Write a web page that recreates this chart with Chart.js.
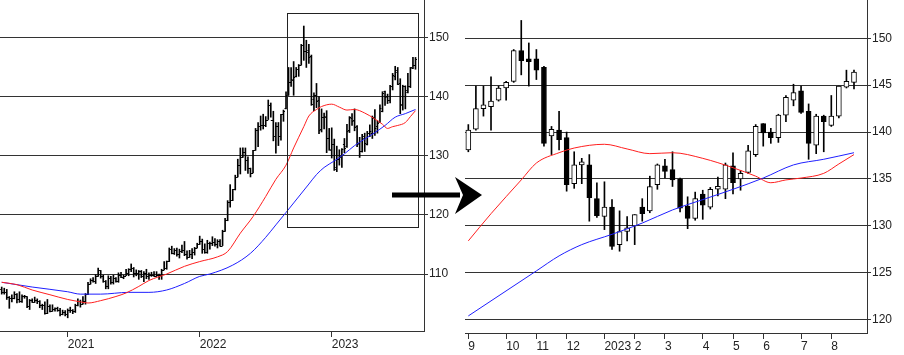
<!DOCTYPE html>
<html>
<head>
<meta charset="utf-8">
<script src="https://cdn.jsdelivr.net/npm/chart.js@4/dist/chart.umd.min.js"></script>
<style>
  body { margin: 0; background: #fff; }
  #wrap { position: relative; width: 904px; height: 355px; overflow: hidden; }
  canvas { position: absolute; top: 0; }
  #leftChart { left: 0; }
  #rightChart { left: 465px; }
  svg { position: absolute; left: 0; top: 0; pointer-events: none; }
</style>
</head>
<body>
<div id="wrap">
  <canvas id="leftChart" width="460" height="355"></canvas>
  <canvas id="rightChart" width="439" height="355"></canvas>
  <!-- arrow from the zoom box to the detail chart -->
  <svg width="904" height="355">
    <rect x="392" y="192.5" width="68" height="5" fill="#000"/>
    <polygon points="455,177 482,195 455,214 463,195" fill="#000"/>
  </svg>
</div>
<script>
// Weekly bars, index 0 = week of 6 Jul 2020, index 163 = week of 21 Aug 2023

const opens = [
  107.5,106.9,107.0,106.1,105.9,105.9,106.6,105.8,105.4,106.2,
  106.2,104.6,105.6,105.3,105.6,105.4,104.7,104.7,103.4,104.6,
  103.8,104.1,104.2,104.0,103.3,103.6,103.2,103.9,103.9,103.8,
  104.7,105.4,104.9,105.4,106.6,108.3,109.0,108.9,109.6,110.6,
  109.6,108.8,107.9,109.3,108.6,109.4,108.9,109.9,109.5,109.7,
  110.2,110.8,111.0,110.1,110.1,110.5,109.7,110.2,109.6,109.8,
  109.8,109.7,109.9,109.9,110.7,111.0,112.2,114.2,113.5,114.0,
  113.4,113.9,114.0,113.4,112.8,113.4,113.7,114.4,115.1,115.6,
  114.2,113.7,115.3,115.2,115.4,115.0,115.6,114.8,117.3,119.2,
  122.1,122.5,124.3,126.4,128.5,129.8,130.6,129.2,127.9,127.1,
  130.9,134.4,135.0,135.2,135.2,136.1,138.6,136.1,133.3,135.0,
  133.4,137.0,
  138.1,140.3,142.5,142.7,143.4,144.7,145.4,148.7,147.7,147.8,
  146.9,139.6,140.2,139.4,134.5,136.5,136.5,132.9,131.0,132.0,
  128.0,129.4,130.0,132.0,131.6,134.4,136.4,136.0,135.0,132.1,
  130.8,133.4,132.0,133.9,133.9,136.4,135.0,135.7,137.6,140.9,
  140.0,139.4,141.8,143.4,144.4,142.2,138.6,141.7,140.7,141.7,
  144.8,145.3
];
const highs = [
  107.8,107.6,107.4,106.2,106.5,107.0,106.7,107.0,106.5,106.4,
  106.2,105.7,105.8,106.1,105.8,105.5,104.9,105.3,105.7,104.8,
  104.8,104.3,104.4,104.2,103.9,103.8,104.1,104.4,104.0,104.9,
  105.8,105.6,106.2,106.7,108.6,109.2,109.4,109.9,111.0,110.6,
  109.8,108.9,109.7,109.6,109.8,109.4,110.2,110.3,109.8,110.8,
  110.9,111.7,111.1,110.7,110.6,110.6,110.4,110.8,110.2,110.3,
  110.4,110.4,110.0,110.8,112.1,112.2,114.4,114.7,114.3,114.4,
  114.2,114.9,115.5,113.9,114.0,114.3,114.5,115.2,116.4,115.9,
  115.1,115.7,115.4,116.3,116.0,115.8,115.8,117.4,119.4,122.4,
  125.1,124.3,126.7,129.4,131.3,131.3,131.3,129.8,127.9,130.9,
  134.6,135.6,136.7,137.0,136.6,139.4,138.9,137.5,135.6,135.6,
  137.0,137.7,
  140.8,144.9,144.9,145.9,144.9,145.4,148.8,151.9,149.5,148.8,
  147.0,140.6,142.2,140.0,137.9,137.2,137.6,134.6,134.7,132.8,
  131.6,131.0,131.2,132.9,135.3,136.6,137.1,137.9,135.1,133.1,
  133.6,133.8,134.1,135.2,136.7,137.8,135.9,138.6,140.8,140.9,
  140.4,141.9,143.9,145.1,144.9,143.0,141.9,141.8,143.9,144.9,
  146.6,146.6
];
const lows = [
  106.6,106.6,105.7,104.2,105.3,105.8,105.1,105.2,105.2,105.9,
  104.3,104.0,105.2,105.2,105.0,104.3,104.0,103.2,103.3,103.6,
  103.7,103.7,103.7,102.9,103.1,102.9,102.6,103.5,103.3,103.5,
  104.6,104.4,104.9,104.9,106.5,108.3,108.6,108.4,109.6,109.3,
  108.6,107.5,107.5,108.3,108.3,108.6,108.6,109.4,109.2,109.7,
  109.7,110.4,109.5,109.7,109.1,109.4,108.7,109.2,109.1,109.6,
  109.6,109.6,109.1,109.1,110.7,110.8,112.1,113.4,113.3,113.0,
  112.7,113.6,113.1,112.5,112.8,112.6,113.2,114.4,115.0,113.5,
  113.5,113.5,114.2,114.8,114.7,114.4,114.7,114.8,117.2,119.0,
  121.3,122.4,124.2,126.4,126.9,129.7,127.5,127.0,126.4,127.1,
  130.9,131.5,134.3,134.5,134.9,136.1,136.5,132.5,130.4,131.7,
  132.6,135.8,
  137.9,140.2,141.7,140.2,143.3,143.4,145.3,146.1,144.9,145.6,
  138.5,137.6,138.1,133.7,134.0,134.5,130.5,130.9,129.6,127.5,
  127.3,128.4,128.0,130.5,131.4,133.9,135.1,134.2,131.5,129.7,
  130.6,130.7,131.8,133.2,132.9,133.4,133.8,135.6,137.4,138.5,
  138.8,138.9,141.1,142.8,142.0,137.1,137.7,137.9,140.6,141.5,
  144.7,144.6
];
const closes = [
  106.9,107.0,106.1,105.9,105.9,106.6,105.8,105.4,106.2,106.2,
  104.6,105.6,105.3,105.6,105.4,104.7,104.7,103.4,104.6,103.8,
  104.1,104.2,104.0,103.3,103.6,103.2,103.9,103.9,103.8,104.7,
  105.4,104.9,105.4,106.6,108.3,109.0,108.9,109.6,110.6,109.6,
  108.8,107.9,109.3,108.6,109.4,108.9,109.9,109.5,109.7,110.2,
  110.8,111.0,110.1,110.1,110.5,109.7,110.2,109.6,109.8,109.8,
  109.7,109.9,109.9,110.7,111.0,112.2,114.2,113.5,114.0,113.4,
  113.9,114.0,113.4,112.8,113.4,113.7,114.4,115.1,115.6,114.2,
  113.7,115.3,115.2,115.4,115.0,115.6,114.8,117.3,119.2,122.1,
  122.5,124.3,126.4,128.5,129.8,130.6,129.2,127.9,127.1,130.9,
  134.4,135.0,135.2,135.2,136.1,138.6,136.1,133.3,135.0,133.4,
  137.0,137.6,
  140.2,142.5,142.9,143.3,144.7,145.3,148.7,147.6,147.5,146.6,
  138.8,140.3,139.2,134.4,136.5,136.7,133.0,131.1,132.0,127.8,
  129.4,129.8,131.2,131.3,134.2,136.5,135.8,134.9,131.9,130.8,
  132.9,132.2,133.9,134.2,136.5,134.6,135.6,138.0,140.6,139.9,
  139.4,141.8,143.7,144.2,142.1,138.8,141.7,141.1,141.7,144.9,
  145.4,146.4
];

// Moving averages (week index, value)
const maRedWeeks = [0,6,12,19,26,31,34,39,45,49,54,58,65,72,78,85,89,94,99,104,
  108,112,115,119,121,124,126,130,133,136,139,143,147,150,152,154,156,159,161,163];
const maRed = [108.6,108.2,107.3,106.5,105.7,105.3,105.1,105.5,106.2,106.8,
  107.9,108.9,110.0,111.3,112.1,112.9,113.8,116.9,119.7,123.1,
  126.0,128.4,131.3,134.9,136.7,137.8,138.3,138.7,138.2,137.7,
  137.8,137.2,136.2,135.3,134.6,134.9,135.1,135.6,136.6,137.6];
const maBlueWeeks = [0,12,26,31,39,50,58,65,72,78,82,91,98,104,108,112,115,121,124,127,
  131,135,139,143,147,151,155,159,163];
const maBlue = [108.6,107.8,107.0,106.6,106.6,106.9,106.9,107.3,108.4,109.6,
  110.0,111.5,113.5,116.2,118.3,120.4,122.0,125.2,126.8,128.0,
  129.1,130.3,131.7,132.8,133.9,135.1,136.5,137.1,137.8];

// Axis ticks
const yearTickWeeks = [26, 78, 130];
const yearTickLabels = ['2021', '2022', '2023'];
const monthTickWeeks = [112, 117, 121, 125, 130, 134, 138, 143, 147, 151, 156, 160];
const monthTickLabels = ['9', '10', '11', '12', '2023', '2', '3', '4', '5', '6', '7', '8'];
const leftPriceTicks = [110, 120, 130, 140, 150];
const rightPriceTicks = [120, 125, 130, 135, 140, 145, 150];

// Detail window (first week of the right chart onward)
const detailStart = 112;
const zoomBox = { from: 112.2, to: 164, low: 118, high: 154.1 };

const FONT = { family: '"Liberation Sans", Arial, sans-serif', size: 12 };
const TEXT = '#222';
const GRID = '#333';

function pts(weeks, vals, start) {
    return weeks.map((w, k) => ({ x: w, y: vals[k] })).filter(p => p.x >= start);
}

// Open/close ticks for the OHLC bars of the left chart
const ohlcTicks = {
    id: 'ohlcTicks',
    beforeDatasetsDraw(chart) {
        const { ctx, scales: { x, y } } = chart;
        ctx.save();
        ctx.strokeStyle = '#000';
        ctx.lineWidth = 1;
        ctx.beginPath();
        opens.forEach((o, i) => {
            const px = x.getPixelForValue(i);
            const yo = Math.round(y.getPixelForValue(o)) + 0.5;
            const yc = Math.round(y.getPixelForValue(closes[i])) + 0.5;
            ctx.moveTo(px - 1.5, yo); ctx.lineTo(px, yo);
            ctx.moveTo(px, yc); ctx.lineTo(px + 1.5, yc);
        });
        ctx.stroke();
        ctx.restore();
    }
};

// Rectangle marking the detail window
const zoomFrame = {
    id: 'zoomFrame',
    afterDatasetsDraw(chart) {
        const { ctx, scales: { x, y } } = chart;
        const x0 = Math.round(x.getPixelForValue(zoomBox.from)) + 0.5;
        const x1 = Math.round(x.getPixelForValue(zoomBox.to)) + 0.5;
        const y0 = Math.round(y.getPixelForValue(zoomBox.high)) + 0.5;
        const y1 = Math.round(y.getPixelForValue(zoomBox.low)) + 0.5;
        ctx.save();
        ctx.strokeStyle = '#222';
        ctx.lineWidth = 1;
        ctx.strokeRect(x0, y0, x1 - x0, y1 - y0);
        ctx.restore();
    }
};

function xAxis(min, max, tickWeeks, tickLabels, height) {
    return {
        type: 'linear', min: min, max: max, offset: false, grace: 0,
        afterBuildTicks: s => { s.ticks = tickWeeks.map(v => ({ value: v })); },
        afterFit: s => { s.height = height; s.paddingLeft = 0; s.paddingRight = 0; },
        ticks: {
            callback: v => tickLabels[tickWeeks.indexOf(v)],
            align: 'start', maxRotation: 0, autoSkip: false,
            font: FONT, color: TEXT, padding: 0
        },
        grid: { drawOnChartArea: false, drawTicks: true, tickLength: 6, color: GRID, lineWidth: 1, offset: false },
        border: { display: true, color: GRID, width: 1 }
    };
}

function yAxis(min, max, tickVals, width) {
    return {
        type: 'linear', position: 'right', min: min, max: max,
        afterBuildTicks: s => { s.ticks = tickVals.map(v => ({ value: v })); },
        afterFit: s => { s.width = width; s.paddingTop = 0; s.paddingBottom = 0; },
        ticks: { font: FONT, color: TEXT, padding: 1 },
        grid: { color: GRID, lineWidth: 1, drawTicks: true, tickLength: 4 },
        border: { display: true, color: GRID, width: 1 }
    };
}

function maLines(start) {
    return [
        { type: 'line', data: pts(maRedWeeks, maRed, start), borderColor: '#ff1f1f',
          borderWidth: 1, pointRadius: 0, tension: 0.4, cubicInterpolationMode: 'monotone', order: 0 },
        { type: 'line', data: pts(maBlueWeeks, maBlue, start), borderColor: '#1f1fff',
          borderWidth: 1, pointRadius: 0, tension: 0.4, cubicInterpolationMode: 'monotone', order: 1 }
    ];
}

const common = {
    responsive: false,
    animation: false,
    layout: { padding: 0 },
    plugins: { legend: { display: false }, tooltip: { enabled: false } }
};

//====================== LEFT: weekly OHLC ========================
new Chart(document.getElementById('leftChart'), {
    type: 'bar',
    data: {
        datasets: [
            ...maLines(0),
            { type: 'bar', data: opens.map((o, i) => ({ x: i, y: [lows[i], highs[i]] })),
              backgroundColor: '#000', barThickness: 1, grouped: false, order: 3 }
        ]
    },
    options: {
        ...common,
        scales: {
            x: xAxis(-0.67, 166.35, yearTickWeeks, yearTickLabels, 24),
            y: yAxis(100.37, 156.3, leftPriceTicks, 36)
        }
    },
    plugins: [ohlcTicks, zoomFrame]
});

//====================== RIGHT: weekly candles ========================
const candleIdx = opens.map((o, i) => i).filter(i => i >= detailStart);

new Chart(document.getElementById('rightChart'), {
    type: 'bar',
    data: {
        datasets: [
            ...maLines(detailStart),
            { type: 'bar', data: candleIdx.map(i => ({ x: i, y: [opens[i], closes[i]] })),
              backgroundColor: candleIdx.map(i => closes[i] >= opens[i] ? '#fff' : '#000'),
              borderColor: '#000', borderWidth: 1, borderSkipped: false,
              barThickness: 5, minBarLength: 3, grouped: false, order: 2 },
            { type: 'bar', data: candleIdx.map(i => ({ x: i, y: [lows[i], highs[i]] })),
              backgroundColor: '#000', barThickness: 1, grouped: false, order: 3 }
        ]
    },
    options: {
        ...common,
        scales: {
            x: xAxis(111.56, 164.72, monthTickWeeks, monthTickLabels, 22),
            y: yAxis(118.58, 154.08, rightPriceTicks, 37)
        }
    }
});
</script>
</body>
</html>
